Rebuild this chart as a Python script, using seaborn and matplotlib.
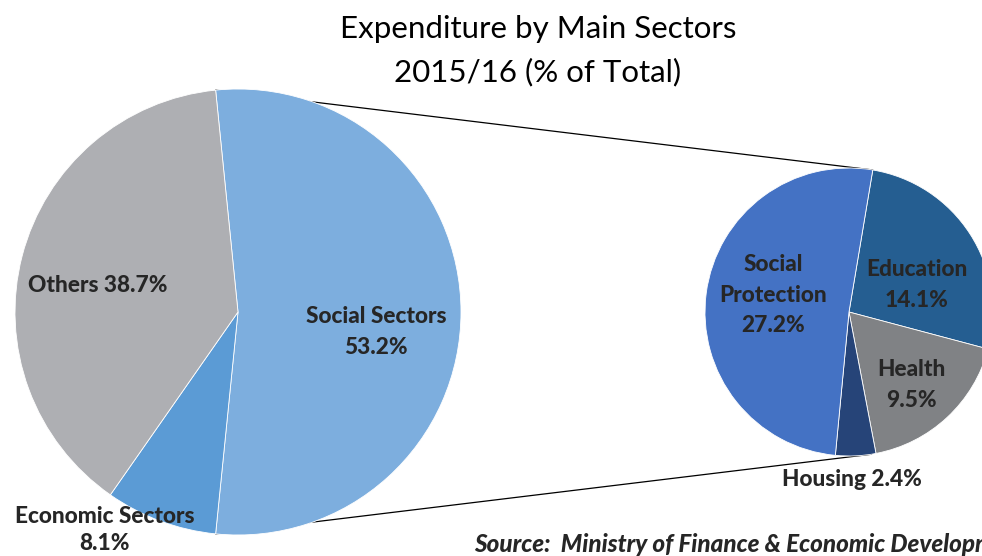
import numpy as np
import matplotlib
matplotlib.use("Agg")
import matplotlib.pyplot as plt
import seaborn as sns

# ---- data ----
main_labels = ["Social Sectors", "Economic Sectors", "Others"]
main_values = [53.2, 8.1, 38.7]
main_colors = ["#7DAEDE", "#5B9BD5", "#AEAFB3"]

sub_labels = ["Education", "Health", "Housing", "Social Protection"]
sub_values = [14.1, 9.5, 2.4, 27.2]
sub_colors = ["#255E91", "#808285", "#264478", "#4472C4"]

title_lines = ["Expenditure by Main Sectors", "2015/16 (% of Total)"]
source_text = "Source:  Ministry of Finance & Economic Development"

sns.set_theme(style="white")
plt.rcParams['font.family'] = ['Lato', 'DejaVu Sans']

W, H = 982, 556
fig = plt.figure(figsize=(W / 100, H / 100), dpi=100)
ax = fig.add_axes([0, 0, 1, 1])

def Y(y):
    return H - y

main_c = (238, Y(312)); main_r = 223
sub_c = (849, Y(312)); sub_r = 144

main_start = main_values[0] / sum(main_values) * 360 / 2
ax.pie(main_values, colors=main_colors, startangle=main_start, counterclock=False,
       center=main_c, radius=main_r,
       wedgeprops=dict(edgecolor="white", linewidth=0.6, zorder=2))
ax.pie(sub_values, colors=sub_colors, startangle=80.5, counterclock=False,
       center=sub_c, radius=sub_r,
       wedgeprops=dict(edgecolor="white", linewidth=0.6, zorder=2))

# connector lines
a1 = np.deg2rad(main_start); a2 = np.deg2rad(-main_start)
b1 = np.deg2rad(80.5); b2 = np.deg2rad(-81.0)
for a, b in [(a1, b1), (a2, b2)]:
    ax.plot([main_c[0] + main_r * np.cos(a), sub_c[0] + sub_r * np.cos(b)],
            [main_c[1] + main_r * np.sin(a), sub_c[1] + sub_r * np.sin(b)],
            color="black", lw=0.9, zorder=1)

ax.set_xlim(0, W); ax.set_ylim(0, H)
ax.set_aspect("equal")
ax.axis("off")

tc = "#262626"
lab = dict(fontsize=16.3, fontweight="black", color=tc, ha="center", va="center",
           linespacing=1.55, zorder=5)
ax.text(98, Y(285), f"{main_labels[2]} {main_values[2]}%", **lab)
ax.text(376, Y(332), f"{main_labels[0]}\n{main_values[0]}%", **lab)
ax.text(773, Y(295), "Social\nProtection\n" + f"{sub_values[3]}%", **lab)
ax.text(917, Y(285), f"{sub_labels[0]}\n{sub_values[0]}%", **lab)
ax.text(911, Y(385), f"{sub_labels[1]}\n{sub_values[1]}%", **lab)
ax.text(852, Y(479), f"{sub_labels[2]} {sub_values[2]}%", **lab)
lab_e = dict(lab); lab_e["linespacing"] = 1.4
ax.text(105, Y(530), f"{main_labels[1]}\n{main_values[1]}%", **lab_e)

ax.text(538, Y(29), title_lines[0], fontsize=22.5, color="black", ha="center", va="center")
ax.text(538, Y(72), title_lines[1], fontsize=22.5, color="black", ha="center", va="center")

ax.text(474, Y(545), source_text, fontsize=17.5, fontweight="black", fontstyle="italic",
        color=tc, ha="left", va="center", clip_on=False)

fig.savefig("out.png", dpi=100)
